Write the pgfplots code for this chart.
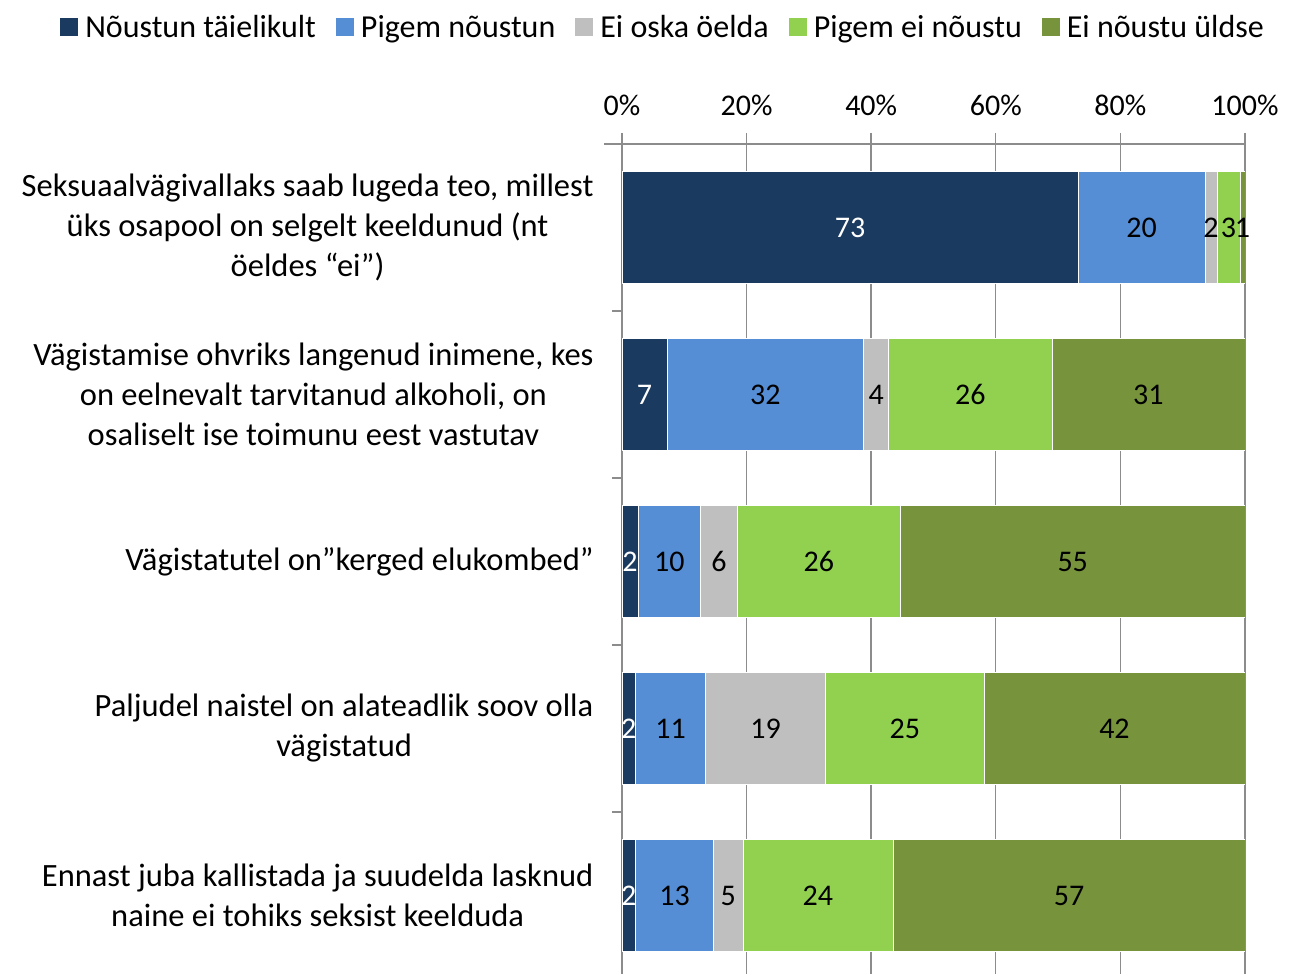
\documentclass[border=0pt]{standalone}
\usepackage{pgfplots}
\pgfplotsset{compat=1.18}
\usepackage{pgfplotstable}
\usepackage{fontspec}
\setmainfont{Carlito}
\definecolor{c1}{HTML}{1B3A5F}
\definecolor{c2}{HTML}{558ED5}
\definecolor{c3}{HTML}{BFBFBF}
\definecolor{c4}{HTML}{92D050}
\definecolor{c5}{HTML}{77933C}
\definecolor{axgray}{HTML}{8C8C8C}

% rows: y=4 is the top bar
\pgfplotstableread{
y s1 s2 s3 s4 s5
4 73.2 20.4 1.9 3.7 0.8
3 7.2 31.6 4.0 26.2 31.0
2 2.6 10.0 5.9 26.2 55.3
1 2.2 11.2 19.3 25.4 41.9
0 2.2 12.5 4.7 24.1 56.5
}\data

\pgfplotstableread{
y x lab
4 36.6 73
3 3.6 7
2 1.3 2
1 1.1 2
0 1.1 2
}\labnavy

\pgfplotstableread{
y x lab
4 83.4 20
4 94.55 2
4 97.35 3
4 99.6 1
3 23.0 32
3 40.8 4
3 55.9 26
3 84.5 31
2 7.6 10
2 15.55 6
2 31.6 26
2 72.35 55
1 7.8 11
1 23.05 19
1 45.4 25
1 79.05 42
0 8.45 13
0 17.05 5
0 31.45 24
0 71.75 57
}\labother

\pgfplotsset{
  common/.style={
    scale only axis, width=623pt, height=835pt,
    xmin=0, xmax=100, ymin=-0.5, ymax=4.5,
    at={(0,0)}, anchor=north west,
  }
}

\begin{document}
\begin{tikzpicture}
\begin{axis}[
  common,
  xbar stacked, bar width=112pt,
  axis x line*=top, axis y line*=left,
  axis line style={axgray, line width=1.6pt, -},
  x axis line style={shorten <=-18pt},
  xtick={0,20,...,100},
  xticklabel={\pgfmathprintnumber[assume math mode=true]{\tick}\%},
  xticklabel style={font=\fontsize{30}{36}\selectfont, text=black, yshift=14pt},
  tick align=outside,
  major tick length=11pt,
  minor tick length=10pt,
  x tick style={axgray, line width=1.4pt},
  xmajorgrids, grid style={axgray, line width=1.4pt},
  ytick={0,...,4},
  y tick style={draw=none},
  minor ytick={-0.5,0.5,1.5,2.5,3.5},
  minor y tick style={draw=axgray, line width=1.4pt},
  yticklabels={
    {Ennast juba kallistada ja suudelda lasknud\\naine ei tohiks seksist keelduda},
    {Paljudel naistel on alateadlik soov olla\\vägistatud},
    {Vägistatutel on”kerged elukombed”},
    {Vägistamise ohvriks langenud inimene, kes\\on eelnevalt tarvitanud alkoholi, on\\osaliselt ise toimunu eest vastutav},
    {Seksuaalvägivallaks saab lugeda teo, millest\\üks osapool on selgelt keeldunud (nt\\öeldes “ei”)}
  },
  yticklabel style={align=center, font=\fontsize{32.5}{40}\selectfont, text=black, xshift=-14pt},
  legend columns=5,
  legend style={at={(0.066,1.159)}, anchor=north, draw=none, fill=none,
    font=\fontsize{32}{36}\selectfont,
    /tikz/every odd column/.append style={column sep=5pt},
    /tikz/every even column/.append style={column sep=18pt}},
  legend image code/.code={\fill[#1, draw=none] (0pt,-9pt) rectangle (18pt,9pt);},
]
\coordinate (tl) at (rel axis cs:0,1);
\addplot[fill=c1, draw=white, line width=0.5pt] table[x=s1, y=y]{\data};
\addplot[fill=c2, draw=white, line width=0.5pt] table[x=s2, y=y]{\data};
\addplot[fill=c3, draw=white, line width=0.5pt] table[x=s3, y=y]{\data};
\addplot[fill=c4, draw=white, line width=0.5pt] table[x=s4, y=y]{\data};
\addplot[fill=c5, draw=white, line width=0.5pt] table[x=s5, y=y]{\data};
\legend{Nõustun täielikult, Pigem nõustun, Ei oska öelda, Pigem ei nõustu, Ei nõustu üldse}
\end{axis}
\begin{axis}[
  common,
  axis lines=none, xtick=\empty, ytick=\empty,
  nodes near coords,
  point meta=explicit symbolic,
  every node near coord/.append style={anchor=center, font=\fontsize{30}{36}\selectfont},
]
\addplot[only marks, mark=*, mark size=0pt, mark options={draw=none, fill=none},
  every node near coord/.append style={text=white}]
  table[x=x, y=y, meta=lab]{\labnavy};
\addplot[only marks, mark=*, mark size=0pt, mark options={draw=none, fill=none},
  every node near coord/.append style={text=black}]
  table[x=x, y=y, meta=lab]{\labother};
\end{axis}
\pgfresetboundingbox
\useasboundingbox ([shift={(-622pt,144pt)}]tl) rectangle ([shift={(672pt,-830pt)}]tl);
\end{tikzpicture}
\end{document}
